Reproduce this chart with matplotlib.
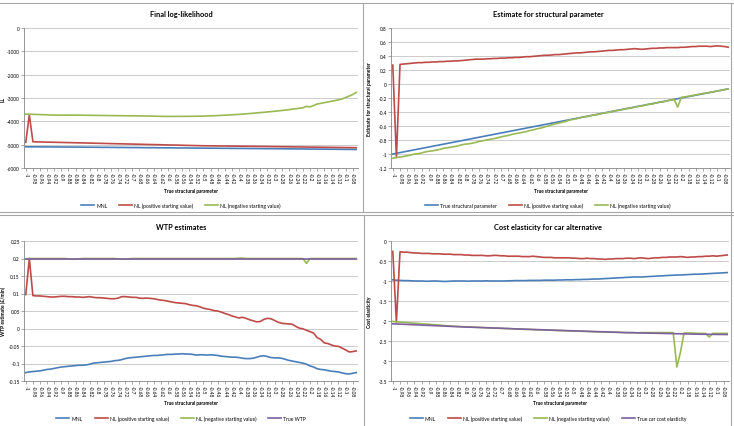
import matplotlib
matplotlib.use("Agg")
import matplotlib.pyplot as plt
from matplotlib.lines import Line2D
from matplotlib.ticker import FuncFormatter

plt.rcParams['font.family'] = ['Lato', 'DejaVu Sans']

# category axis: true structural parameter
x_vals = [-1.00, -0.99, -0.98, -0.97, -0.96, -0.95, -0.94, -0.93, -0.92, -0.91,
          -0.90, -0.89, -0.88, -0.87, -0.86, -0.85, -0.84, -0.83, -0.82, -0.81,
          -0.80, -0.79, -0.78, -0.77, -0.76, -0.75, -0.74, -0.73, -0.72, -0.71,
          -0.70, -0.69, -0.68, -0.67, -0.66, -0.65, -0.64, -0.63, -0.62, -0.61,
          -0.60, -0.59, -0.58, -0.57, -0.56, -0.55, -0.54, -0.53, -0.52, -0.51,
          -0.50, -0.49, -0.48, -0.47, -0.46, -0.45, -0.44, -0.43, -0.42, -0.41,
          -0.40, -0.39, -0.38, -0.37, -0.36, -0.35, -0.34, -0.33, -0.32, -0.31,
          -0.30, -0.29, -0.28, -0.27, -0.26, -0.25, -0.24, -0.23, -0.22, -0.21,
          -0.20, -0.19, -0.18, -0.17, -0.16, -0.15, -0.14, -0.13, -0.12, -0.11,
          -0.10, -0.09, -0.08, -0.07]

# Final log-likelihood
ll_mnl = [-5090, -5092, -5093, -5091, -5094, -5095, -5093, -5096, -5098, -5097,
          -5100, -5102, -5101, -5104, -5105, -5103, -5107, -5108, -5110, -5109,
          -5112, -5113, -5115, -5114, -5117, -5118, -5120, -5119, -5122, -5124,
          -5125, -5123, -5127, -5128, -5130, -5131, -5129, -5133, -5134, -5136,
          -5137, -5135, -5139, -5140, -5142, -5141, -5144, -5145, -5147, -5146,
          -5149, -5150, -5152, -5151, -5154, -5155, -5157, -5156, -5159, -5160,
          -5162, -5161, -5164, -5165, -5167, -5166, -5169, -5170, -5172, -5171,
          -5174, -5176, -5175, -5178, -5180, -5179, -5182, -5184, -5183, -5186,
          -5188, -5187, -5190, -5192, -5191, -5194, -5196, -5195, -5198, -5200,
          -5202, -5201, -5204, -5206]
ll_nl_pos = [-4900, -3720, -4874, -4880, -4883, -4887, -4891, -4893, -4898, -4901,
             -4904, -4908, -4911, -4915, -4918, -4922, -4926, -4929, -4932, -4936,
             -4940, -4943, -4947, -4950, -4954, -4958, -4961, -4964, -4968, -4972,
             -4975, -4979, -4982, -4986, -4990, -4993, -4997, -5000, -5004, -5008,
             -5011, -5015, -5018, -5022, -5026, -5029, -5033, -5036, -5040, -5044,
             -5046, -5048, -5050, -5052, -5054, -5055, -5057, -5059, -5061, -5063,
             -5065, -5067, -5068, -5070, -5072, -5074, -5076, -5078, -5080, -5082,
             -5084, -5086, -5088, -5090, -5092, -5094, -5096, -5098, -5100, -5102,
             -5104, -5106, -5108, -5110, -5112, -5114, -5116, -5118, -5120, -5122,
             -5124, -5126, -5128, -5130]
ll_nl_neg = [-3690, -3695, -3700, -3705, -3710, -3715, -3720, -3730, -3732, -3733,
             -3733, -3734, -3735, -3735, -3736, -3737, -3738, -3740, -3742, -3744,
             -3746, -3748, -3750, -3752, -3754, -3756, -3758, -3760, -3762, -3763,
             -3764, -3766, -3768, -3770, -3772, -3774, -3778, -3782, -3786, -3788,
             -3790, -3790, -3789, -3788, -3787, -3786, -3785, -3783, -3780, -3778,
             -3775, -3770, -3765, -3760, -3752, -3745, -3738, -3730, -3720, -3710,
             -3700, -3690, -3678, -3666, -3654, -3640, -3626, -3612, -3598, -3584,
             -3568, -3552, -3535, -3518, -3500, -3480, -3460, -3440, -3420, -3360,
             -3380, -3320, -3260, -3230, -3200, -3170, -3140, -3110, -3080, -3040,
             -2980, -2920, -2850, -2760]

# Estimate for structural parameter
est_true = x_vals
est_nl_pos = [0.27, -1.05, 0.28, 0.285, 0.29, 0.295, 0.30, 0.305, 0.305, 0.31,
              0.31, 0.315, 0.315, 0.32, 0.32, 0.325, 0.325, 0.33, 0.33, 0.335,
              0.34, 0.345, 0.35, 0.355, 0.355, 0.355, 0.36, 0.36, 0.365, 0.365,
              0.37, 0.37, 0.375, 0.375, 0.38, 0.38, 0.385, 0.39, 0.39, 0.395,
              0.40, 0.405, 0.41, 0.41, 0.415, 0.42, 0.42, 0.425, 0.43, 0.435,
              0.44, 0.445, 0.445, 0.45, 0.455, 0.46, 0.46, 0.465, 0.47, 0.475,
              0.48, 0.48, 0.485, 0.49, 0.49, 0.495, 0.50, 0.505, 0.50, 0.495,
              0.50, 0.505, 0.51, 0.51, 0.515, 0.515, 0.52, 0.52, 0.52, 0.52,
              0.525, 0.525, 0.53, 0.535, 0.535, 0.54, 0.54, 0.54, 0.535, 0.54,
              0.545, 0.54, 0.535, 0.525]
est_nl_neg = [-1.06, -1.05, -1.045, -1.035, -1.025, -1.015, -1.0, -0.995, -0.985, -0.97,
              -0.96, -0.955, -0.945, -0.935, -0.92, -0.91, -0.905, -0.895, -0.885, -0.87,
              -0.86, -0.855, -0.845, -0.835, -0.82, -0.81, -0.80, -0.79, -0.78, -0.77,
              -0.755, -0.745, -0.735, -0.72, -0.71, -0.70, -0.69, -0.68, -0.665, -0.655,
              -0.64, -0.63, -0.615, -0.60, -0.585, -0.57, -0.56, -0.545, -0.535, -0.515,
              -0.505, -0.495, -0.48, -0.47, -0.465, -0.45, -0.44, -0.435, -0.42, -0.41,
              -0.405, -0.39, -0.38, -0.375, -0.36, -0.35, -0.345, -0.33, -0.32, -0.315,
              -0.30, -0.29, -0.285, -0.27, -0.26, -0.255, -0.24, -0.23, -0.22, -0.33,
              -0.19, -0.185, -0.175, -0.165, -0.155, -0.145, -0.135, -0.13, -0.12, -0.11,
              -0.10, -0.09, -0.08, -0.07]

# WTP estimates
wtp_mnl = [-0.126, -0.124, -0.123, -0.122, -0.121, -0.119, -0.117, -0.116, -0.114, -0.112,
           -0.110, -0.109, -0.108, -0.107, -0.106, -0.105, -0.105, -0.104, -0.102, -0.099,
           -0.098, -0.097, -0.096, -0.095, -0.094, -0.092, -0.091, -0.089, -0.086, -0.084,
           -0.083, -0.082, -0.081, -0.080, -0.079, -0.078, -0.077, -0.077, -0.076, -0.075,
           -0.074, -0.074, -0.073, -0.073, -0.072, -0.073, -0.073, -0.074, -0.076, -0.075,
           -0.075, -0.076, -0.075, -0.076, -0.077, -0.079, -0.080, -0.081, -0.082, -0.082,
           -0.083, -0.085, -0.086, -0.086, -0.085, -0.082, -0.079, -0.078, -0.080, -0.083,
           -0.084, -0.084, -0.085, -0.088, -0.091, -0.093, -0.095, -0.097, -0.099, -0.102,
           -0.107, -0.110, -0.115, -0.117, -0.118, -0.120, -0.122, -0.123, -0.124, -0.127,
           -0.129, -0.130, -0.128, -0.126]
wtp_nl_pos = [0.097, 0.200, 0.094, 0.093, 0.093, 0.092, 0.091, 0.090, 0.090, 0.091,
              0.092, 0.092, 0.091, 0.091, 0.090, 0.090, 0.089, 0.090, 0.091, 0.089,
              0.088, 0.088, 0.087, 0.086, 0.085, 0.085, 0.087, 0.091, 0.091, 0.090,
              0.089, 0.089, 0.087, 0.086, 0.087, 0.086, 0.085, 0.083, 0.081, 0.080,
              0.078, 0.076, 0.074, 0.073, 0.072, 0.071, 0.068, 0.066, 0.065, 0.062,
              0.058, 0.056, 0.054, 0.051, 0.050, 0.047, 0.043, 0.040, 0.036, 0.033,
              0.030, 0.032, 0.029, 0.025, 0.022, 0.019, 0.020, 0.026, 0.029, 0.028,
              0.023, 0.018, 0.015, 0.014, 0.013, 0.012, 0.006, 0.001, -0.001, -0.005,
              -0.009, -0.013, -0.026, -0.031, -0.041, -0.043, -0.047, -0.050, -0.051, -0.056,
              -0.061, -0.067, -0.066, -0.064]
wtp_nl_neg = [0.199, 0.2, 0.2, 0.2, 0.2, 0.2, 0.2, 0.2, 0.2, 0.2,
              0.2, 0.2, 0.199, 0.198, 0.198, 0.199, 0.2, 0.2, 0.2, 0.2,
              0.2, 0.2, 0.2, 0.2, 0.2, 0.2, 0.199, 0.198, 0.198, 0.199,
              0.2, 0.2, 0.2, 0.2, 0.2, 0.2, 0.2, 0.2, 0.2, 0.2,
              0.2, 0.2, 0.2, 0.2, 0.2, 0.2, 0.2, 0.2, 0.2, 0.2,
              0.2, 0.2, 0.2, 0.2, 0.2, 0.2, 0.2, 0.2, 0.2, 0.2,
              0.201, 0.201, 0.2, 0.2, 0.2, 0.2, 0.2, 0.2, 0.2, 0.2,
              0.2, 0.2, 0.2, 0.2, 0.2, 0.2, 0.2, 0.2, 0.2, 0.186,
              0.2, 0.2, 0.2, 0.2, 0.2, 0.2, 0.2, 0.2, 0.2, 0.2,
              0.2, 0.2, 0.2, 0.2]
wtp_true = [0.2] * len(x_vals)

# Cost elasticity for car alternative
ce_mnl = [-0.97, -0.98, -0.985, -0.99, -0.99, -0.995, -1.0, -1.0, -1.0, -1.005,
          -1.005, -1.0, -1.0, -1.005, -1.01, -1.01, -1.005, -1.0, -1.0, -1.0,
          -1.0, -1.005, -1.0, -1.0, -1.0, -1.0, -0.995, -1.0, -1.0, -1.0,
          -1.0, -1.0, -0.995, -0.995, -0.99, -0.99, -0.99, -0.99, -0.985, -0.985,
          -0.985, -0.985, -0.98, -0.98, -0.98, -0.98, -0.975, -0.975, -0.97, -0.97,
          -0.97, -0.965, -0.965, -0.96, -0.96, -0.955, -0.95, -0.95, -0.945, -0.94,
          -0.935, -0.93, -0.925, -0.92, -0.915, -0.91, -0.905, -0.90, -0.90, -0.90,
          -0.895, -0.89, -0.885, -0.88, -0.875, -0.87, -0.865, -0.86, -0.855, -0.85,
          -0.85, -0.845, -0.84, -0.835, -0.83, -0.83, -0.825, -0.82, -0.815, -0.81,
          -0.805, -0.80, -0.795, -0.79]
ce_nl_pos = [-0.26, -2.03, -0.27, -0.28, -0.28, -0.29, -0.30, -0.30, -0.31, -0.31,
             -0.31, -0.32, -0.32, -0.32, -0.33, -0.33, -0.33, -0.34, -0.34, -0.34,
             -0.35, -0.35, -0.36, -0.36, -0.36, -0.36, -0.37, -0.37, -0.36, -0.36,
             -0.37, -0.37, -0.38, -0.38, -0.38, -0.38, -0.39, -0.39, -0.39, -0.38,
             -0.39, -0.40, -0.41, -0.41, -0.41, -0.42, -0.42, -0.42, -0.42, -0.42,
             -0.43, -0.43, -0.44, -0.44, -0.43, -0.44, -0.44, -0.45, -0.45, -0.46,
             -0.45, -0.45, -0.44, -0.44, -0.44, -0.43, -0.43, -0.44, -0.43, -0.42,
             -0.43, -0.44, -0.43, -0.42, -0.42, -0.41, -0.41, -0.40, -0.40, -0.40,
             -0.39, -0.40, -0.41, -0.40, -0.40, -0.39, -0.39, -0.38, -0.38, -0.37,
             -0.38, -0.37, -0.36, -0.35]
ce_nl_neg = [-2.01, -2.02, -2.03, -2.035, -2.04, -2.05, -2.055, -2.06, -2.07, -2.075,
             -2.08, -2.09, -2.095, -2.10, -2.11, -2.12, -2.125, -2.13, -2.135, -2.14,
             -2.145, -2.15, -2.15, -2.155, -2.16, -2.165, -2.17, -2.175, -2.18, -2.18,
             -2.185, -2.19, -2.19, -2.195, -2.20, -2.20, -2.205, -2.21, -2.21, -2.215,
             -2.22, -2.22, -2.225, -2.23, -2.23, -2.235, -2.24, -2.24, -2.245, -2.25,
             -2.25, -2.25, -2.255, -2.26, -2.26, -2.265, -2.27, -2.27, -2.27, -2.275,
             -2.28, -2.28, -2.28, -2.285, -2.29, -2.29, -2.29, -2.29, -2.295, -2.29,
             -2.29, -2.29, -2.29, -2.29, -2.29, -2.29, -2.29, -2.29, -2.29, -3.15,
             -2.78, -2.30, -2.30, -2.30, -2.305, -2.31, -2.31, -2.31, -2.40, -2.31,
             -2.31, -2.31, -2.31, -2.31]
ce_true = [-2.07, -2.074, -2.078, -2.082, -2.086, -2.09, -2.094, -2.098, -2.102, -2.106,
           -2.11, -2.114, -2.118, -2.122, -2.126, -2.13, -2.134, -2.138, -2.142, -2.146,
           -2.15, -2.153, -2.156, -2.159, -2.162, -2.165, -2.168, -2.171, -2.174, -2.177,
           -2.18, -2.184, -2.188, -2.192, -2.196, -2.20, -2.203, -2.206, -2.209, -2.212,
           -2.215, -2.218, -2.221, -2.224, -2.227, -2.23, -2.233, -2.236, -2.239, -2.242,
           -2.245, -2.248, -2.251, -2.254, -2.257, -2.26, -2.263, -2.266, -2.269, -2.272,
           -2.275, -2.278, -2.281, -2.284, -2.287, -2.29, -2.292, -2.294, -2.296, -2.298,
           -2.30, -2.302, -2.304, -2.306, -2.308, -2.31, -2.312, -2.314, -2.316, -2.318,
           -2.32, -2.322, -2.324, -2.326, -2.328, -2.33, -2.331, -2.332, -2.333, -2.334,
           -2.335, -2.336, -2.337, -2.338]

BLUE = "#4A7EBB"
RED = "#BE4B48"
GREEN = "#98B954"
PURPLE = "#7D60A0"

W, H = 734, 427
fig = plt.figure(figsize=(W / 100, H / 100), dpi=100)


def px_axes(left, top, right, bottom):
    return fig.add_axes([left / W, 1 - bottom / H, (right - left) / W, (bottom - top) / H])


def fmt(v, pos):
    if abs(v) < 1e-9:
        return "0"
    return f"{round(v, 3):g}"


def panel(ax, series, ylim, ystep, title, ylabel, cx, top_px, ylab_x):
    idx = list(range(len(x_vals)))
    for vals, color, label in series:
        assert len(vals) == len(x_vals), label
        ax.plot(idx, vals, color=color, lw=1.2, label=label)
    ax.set_xlim(-0.5, len(x_vals) - 0.5)
    ax.set_ylim(*ylim)
    n = int(round((ylim[1] - ylim[0]) / ystep))
    ax.set_yticks([ylim[0] + k * ystep for k in range(n + 1)])
    ax.yaxis.set_major_formatter(FuncFormatter(fmt))
    ax.set_xticks(idx[::2])
    ax.set_xticklabels([f"{v:g}" for v in x_vals[::2]], rotation=-90)
    ax.yaxis.grid(True, color="#c4c4c4", lw=0.6)
    ax.set_axisbelow(True)
    for s in ("top", "right"):
        ax.spines[s].set_visible(False)
    for s in ("left", "bottom"):
        ax.spines[s].set_color("#868686")
        ax.spines[s].set_linewidth(0.6)
    ax.tick_params(labelsize=3.4, length=2, width=0.5, color="#868686", pad=1)

    fig.text(cx / W, 1 - (top_px - 14) / H, title, ha="center", va="center",
             fontsize=5.3, fontweight="bold")
    fig.text((ax.get_position().x0 + ax.get_position().x1) / 2, 1 - (top_px + 162) / H,
             "True structural parameter", ha="center", va="center",
             fontsize=3.4, fontweight="bold")
    fig.text(ylab_x / W, 1 - (top_px + 70) / H, ylabel, ha="center", va="center",
             rotation=90, fontsize=3.6, fontweight="bold")
    ax.legend(loc="center", bbox_to_anchor=(cx / W, 1 - (top_px + 177) / H),
              bbox_transform=fig.transFigure, ncol=len(series), frameon=False,
              fontsize=3.6, handlelength=2.6, handletextpad=0.4, columnspacing=2.4)


ax1 = px_axes(24, 29, 358, 169)
panel(ax1, [(ll_mnl, BLUE, "MNL"),
            (ll_nl_pos, RED, "NL (positive starting value)"),
            (ll_nl_neg, GREEN, "NL (negative starting value)")],
      (-6000, 0), 1000, "Final log-likelihood", "LL", 181, 29, 3)

ax2 = px_axes(391, 29, 730, 169)
panel(ax2, [(est_true, BLUE, "True structural parameter"),
            (est_nl_pos, RED, "NL (positive starting value)"),
            (est_nl_neg, GREEN, "NL (negative starting value)")],
      (-1.2, 0.8), 0.2, "Estimate for structural parameter",
      "Estimate for structural parameter", 548, 29, 370)

ax3 = px_axes(24, 242, 358, 382)
panel(ax3, [(wtp_mnl, BLUE, "MNL"),
            (wtp_nl_pos, RED, "NL (positive starting value)"),
            (wtp_nl_neg, GREEN, "NL (negative starting value)"),
            (wtp_true, PURPLE, "True WTP")],
      (-0.15, 0.25), 0.05, "WTP estimates", "WTP estimate (£/min)", 181, 242, 3)

ax4 = px_axes(391, 242, 729, 382)
panel(ax4, [(ce_mnl, BLUE, "MNL"),
            (ce_nl_pos, RED, "NL (positive starting value)"),
            (ce_nl_neg, GREEN, "NL (negative starting value)"),
            (ce_true, PURPLE, "True car cost elasticity")],
      (-3.5, 0), 0.5, "Cost elasticity for car alternative", "Cost elasticity",
      548, 242, 370)

# chart area borders
border = dict(color="#a6a6a6", lw=0.8, transform=fig.transFigure)
for y in (4, 213, 216):
    fig.add_artist(Line2D([0, 1], [1 - y / H, 1 - y / H], **border))
fig.add_artist(Line2D([363 / W, 363 / W], [1 - 4 / H, 1 - 213 / H], **border))
fig.add_artist(Line2D([364 / W, 364 / W], [1 - 216 / H, 0], **border))
fig.add_artist(Line2D([731 / W, 731 / W], [1 - 4 / H, 0], **border))

fig.savefig("out.png", dpi=100, facecolor="white")
